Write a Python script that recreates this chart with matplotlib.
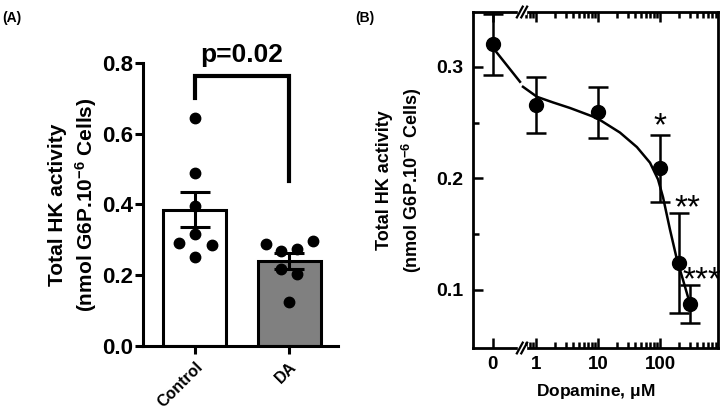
import numpy as np
import matplotlib
matplotlib.use("Agg")
import matplotlib.pyplot as plt
from matplotlib.ticker import FixedLocator, NullFormatter
import matplotlib.transforms as mtransforms

plt.rcParams['font.family'] = ['Liberation Sans', 'DejaVu Sans']
plt.rcParams['mathtext.default'] = 'regular'

# ---------------- Panel A data ----------------
groups = ["Control", "DA"]
bar_means = [0.385, 0.240]
bar_sems = [0.050, 0.023]
bar_colors = ["white", "#808080"]
control_points = [0.645, 0.490, 0.396, 0.316, 0.290, 0.285, 0.252]
control_offsets = [0.0, 0.0, 0.0, 0.0, -0.17, 0.18, 0.0]
da_points = [0.288, 0.269, 0.274, 0.297, 0.218, 0.204, 0.124]
da_offsets = [-0.25, -0.08, 0.09, 0.25, -0.08, 0.09, 0.0]
p_text = "p=0.02"
bracket_top = 0.763
bracket_left_end = 0.700
bracket_right_end = 0.467
a_yticks = [0.0, 0.2, 0.4, 0.6, 0.8]

# ---------------- Panel B data ----------------
dose_labels = ["0", "1", "10", "100"]
dose_tick_pos = [0.202, 1, 10, 100]       # "0" is drawn left of the axis break
dose_pos = [0.202, 1, 10, 100, 200, 300]
activity = [0.320, 0.266, 0.259, 0.209, 0.124, 0.087]
activity_err = [0.027, 0.025, 0.023, 0.030, 0.045, 0.017]
curve_x1 = [0.202, 0.552]
curve_y1 = [0.317, 0.2865]
curve_x2 = [0.617, 1.04, 1.88, 3.54, 9.6, 22.6, 42.4, 69, 93, 112, 145, 188, 235, 303]
curve_y2 = [0.282, 0.273, 0.268, 0.263, 0.254, 0.241, 0.228, 0.214, 0.199, 0.183,
            0.154, 0.127, 0.109, 0.088]
stars = ["*", "**", "***"]
star_x = [100, 282, 475]
star_y = [0.254, 0.181, 0.116]
break_frac = 0.2   # axis-fraction position of the x-axis break

fig = plt.figure(figsize=(7.2, 4.13), dpi=100)

# ================= Panel A =================
axA = fig.add_axes([143/720, 1-346/413, 195/720, (346-63)/413])
xpos = np.arange(len(groups))
axA.bar(xpos, bar_means, width=0.67, color=bar_colors, edgecolor="black",
        linewidth=2.2, zorder=1)
axA.errorbar(xpos, bar_means, yerr=bar_sems, fmt="none", ecolor="black",
             elinewidth=2.2, capsize=11, capthick=2.2, zorder=3)
axA.plot(np.array(control_offsets) + xpos[0], control_points, "o", color="black",
         ms=7.5, zorder=4, clip_on=False)
axA.plot(np.array(da_offsets) + xpos[1], da_points, "o", color="black",
         ms=7.5, zorder=4, clip_on=False)
axA.plot([xpos[0], xpos[0], xpos[1], xpos[1]],
         [bracket_left_end, bracket_top, bracket_top, bracket_right_end],
         color="black", lw=3, clip_on=False, solid_joinstyle="miter")
axA.text((xpos[0]+xpos[1])/2, bracket_top + 0.025, p_text, ha="center", va="bottom",
         fontsize=19, fontweight="bold")
axA.set_xlim(-0.553, 1.521)
axA.set_ylim(0, 0.8)
axA.set_yticks(a_yticks)
axA.set_yticklabels([f"{v:.1f}" for v in a_yticks], fontsize=16, fontweight="bold")
axA.set_xticks(xpos)
axA.set_xticklabels(groups, rotation=45, ha="right", rotation_mode="anchor",
                    fontsize=11.5, fontweight="bold")
for s in ["top", "right"]:
    axA.spines[s].set_visible(False)
for s in ["left", "bottom"]:
    axA.spines[s].set_linewidth(2.2)
axA.tick_params(axis="both", width=2.2, length=6)
axA.tick_params(axis="y", pad=1)
axA.set_ylabel("Total HK activity\n(nmol G6P.10$^{-6}$ Cells)", fontsize=15,
               fontweight="bold", labelpad=2, linespacing=1.35)
fig.text(2/720, 1-18/413, "(A)", fontsize=10, fontweight="bold", va="center")

# ================= Panel B =================
axB = fig.add_axes([473/720, 1-348/413, 245/720, 336/413])
axB.set_xscale("log")
axB.set_xlim(0.0964, 862)
axB.set_ylim(0.048, 0.349)
axB.plot(curve_x1, curve_y1, color="black", lw=1.8, zorder=2)
axB.plot(curve_x2, curve_y2, color="black", lw=1.8, zorder=2)
axB.errorbar(dose_pos, activity, yerr=activity_err, fmt="o", color="black",
             ms=10, elinewidth=1.8, capsize=7, capthick=1.8, zorder=3, clip_on=False)
star_trans = mtransforms.offset_copy(axB.transData, fig=fig, x=0, y=-9, units="dots")
for s, xs, ys in zip(stars, star_x, star_y):
    axB.text(xs, ys, s, ha="center", va="center", fontsize=24, transform=star_trans)
axB.xaxis.set_major_locator(FixedLocator(dose_tick_pos))
axB.set_xticklabels(dose_labels, fontsize=13.5, fontweight="bold")
minors = [m * 10.0**e for e in range(-1, 3) for m in range(2, 10)]
minors = [m for m in minors if m > 0.65 and m < 862]
axB.xaxis.set_minor_locator(FixedLocator(minors))
axB.xaxis.set_minor_formatter(NullFormatter())
axB.set_yticks([0.1, 0.2, 0.3])
axB.set_yticklabels(["0.1", "0.2", "0.3"], fontsize=14, fontweight="bold")
axB.set_yticks([0.15, 0.25], minor=True)
axB.tick_params(axis="both", which="both", direction="in", width=1.8,
                top=True, bottom=True, left=True, right=False)
axB.tick_params(axis="both", which="major", length=7)
axB.tick_params(axis="both", which="minor", length=4)
axB.tick_params(axis="x", pad=6)
axB.tick_params(axis="y", pad=7)
for s in axB.spines.values():
    s.set_linewidth(2)
axB.set_xlabel("Dopamine, $\\mu$M", fontsize=12.5, fontweight="bold", labelpad=6)
axB.set_ylabel("Total HK activity\n(nmol G6P.10$^{-6}$ Cells)", fontsize=13,
               fontweight="bold", labelpad=9, linespacing=1.35)

# axis break marks on top and bottom spines
for yb in (0.0, 1.0):
    axB.add_patch(plt.Rectangle((break_frac - 0.016, yb - 0.006), 0.032, 0.012,
                                transform=axB.transAxes, color="white",
                                clip_on=False, zorder=5))
    for dx in (-0.009, 0.009):
        xc = break_frac + dx
        axB.plot([xc - 0.012, xc + 0.012], [yb - 0.016, yb + 0.016],
                 color="black", lw=1.6, transform=axB.transAxes, clip_on=False,
                 zorder=6)
fig.text(355/720, 1-18/413, "(B)", fontsize=10, fontweight="bold", va="center")

fig.savefig("out.png", dpi=100)
